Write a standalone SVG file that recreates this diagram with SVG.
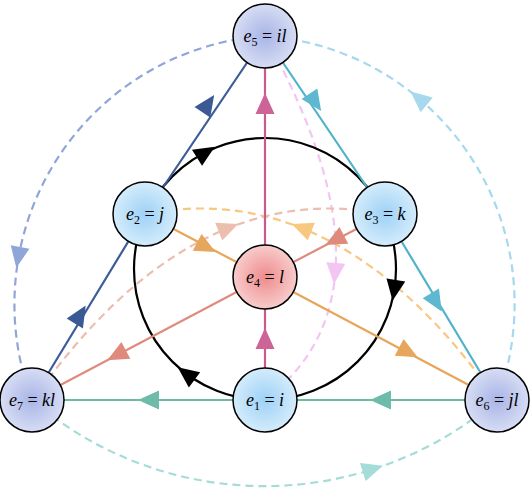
<svg xmlns="http://www.w3.org/2000/svg" width="530" height="488" viewBox="0 0 530 488">
<defs>
<radialGradient id="gBlue"><stop offset="0" stop-color="#9dd1f6"/><stop offset="1" stop-color="#d4ecfb"/></radialGradient>
<radialGradient id="gPurple"><stop offset="0" stop-color="#a8b4e6"/><stop offset="1" stop-color="#d7ddf4"/></radialGradient>
<radialGradient id="gRed"><stop offset="0" stop-color="#ee8b8b"/><stop offset="1" stop-color="#f8cccc"/></radialGradient>
<path id="ah" d="M 11 0 L -10 -9.5 L -10 9.5 Z"/>
</defs>
<style>
.node circle{stroke:#000;stroke-width:1.5}
.lbl{font-family:"Liberation Serif","DejaVu Serif",serif;font-size:18px;text-anchor:middle;fill:#000}
.it{font-style:italic}
.sub{font-size:12px}
.ln{fill:none;stroke-width:2.2}
.dash{fill:none;stroke-width:2.2;stroke-dasharray:8 5}
</style>
<g id="connectors">
<path class="dash" stroke="#90a6d9" d="M 265 36 A 269 269 0 0 0 32 400"/>
<path class="dash" stroke="#a6d8ee" d="M 497 400 A 269 269 0 0 0 265 36"/>
<path class="dash" stroke="#a5dcd7" d="M 32 400 A 357 357 0 0 0 497 400"/>
<path class="dash" stroke="#f3c5f3" d="M 265 36 Q 407 292 265 400"/>
<path class="dash" stroke="#f7c880" d="M 497 400 Q 340 176 145 214"/>
<path class="dash" stroke="#ecbeaf" d="M 33 400 Q 190 176 385 214"/>
<use href="#ah" fill="#90a6d9" transform="translate(18.3 256.9) rotate(100.3)"/>
<use href="#ah" fill="#a6d8ee" transform="translate(419 98.5) rotate(-140.2)"/>
<use href="#ah" fill="#a5dcd7" transform="translate(372.4 469) rotate(-17.6)"/>
<use href="#ah" fill="#f3c5f3" transform="translate(335 273) rotate(94.6)"/>
<use href="#ah" fill="#f7c880" transform="translate(302 228) rotate(201.6)"/>
<use href="#ah" fill="#ecbeaf" transform="translate(228 228) rotate(-21.6)"/>

<circle class="ln" stroke="#000" cx="265" cy="269" r="131"/>
<use href="#ah" fill="#000" transform="translate(205.5 152.5) rotate(-32)"/>
<use href="#ah" fill="#000" transform="translate(394.3 289.9) rotate(99.2)"/>
<use href="#ah" fill="#000" transform="translate(186.5 373.9) rotate(216.8)"/>

<path class="ln" stroke="#3d5c99" d="M 32 400 L 145 214 L 265 36"/>
<path class="ln" stroke="#4fb3cc" d="M 265 36 L 385 214 L 497 400"/>
<path class="ln" stroke="#6cb9a5" d="M 497 400 L 32 400"/>
<path class="ln" stroke="#c95a8c" d="M 265 400 L 265 36"/>
<path class="ln" stroke="#e8a55a" d="M 145 214 L 265 277 L 497 400"/>
<path class="ln" stroke="#df8a7c" d="M 385 214 L 265 277 L 32 400"/>
<use href="#ah" fill="#3a5995" transform="translate(208 104) rotate(-56)"/>
<use href="#ah" fill="#3a5995" transform="translate(80 315) rotate(-58.7)"/>
<use href="#ah" fill="#5db8d0" transform="translate(315 102) rotate(56)"/>
<use href="#ah" fill="#5db8d0" transform="translate(436 302) rotate(58.9)"/>
<use href="#ah" fill="#6ebba9" transform="translate(381 400) rotate(180)"/>
<use href="#ah" fill="#6ebba9" transform="translate(149 400) rotate(180)"/>
<use href="#ah" fill="#cc6497" transform="translate(265 104) rotate(-90)"/>
<use href="#ah" fill="#cc6497" transform="translate(265 339) rotate(-90)"/>
<use href="#ah" fill="#e6a65c" transform="translate(206 247) rotate(27.7)"/>
<use href="#ah" fill="#e6a65c" transform="translate(408 352) rotate(27.9)"/>
<use href="#ah" fill="#df8a7c" transform="translate(335 240) rotate(152.3)"/>
<use href="#ah" fill="#df8a7c" transform="translate(117 355) rotate(152.2)"/>
</g>
<g id="e5" class="node"><circle cx="265" cy="36" r="32" fill="url(#gPurple)"/><text class="lbl" x="265" y="42"><tspan class="it">e</tspan><tspan class="sub" dy="4">5</tspan><tspan dy="-4"> = </tspan><tspan class="it">il</tspan></text></g>
<g id="e2" class="node"><circle cx="145" cy="214" r="32" fill="url(#gBlue)"/><text class="lbl" x="145" y="220"><tspan class="it">e</tspan><tspan class="sub" dy="4">2</tspan><tspan dy="-4"> = </tspan><tspan class="it">j</tspan></text></g>
<g id="e3" class="node"><circle cx="385" cy="214" r="32" fill="url(#gBlue)"/><text class="lbl" x="385" y="220"><tspan class="it">e</tspan><tspan class="sub" dy="4">3</tspan><tspan dy="-4"> = </tspan><tspan class="it">k</tspan></text></g>
<g id="e4" class="node"><circle cx="265" cy="277" r="32" fill="url(#gRed)"/><text class="lbl" x="265" y="283"><tspan class="it">e</tspan><tspan class="sub" dy="4">4</tspan><tspan dy="-4"> = </tspan><tspan class="it">l</tspan></text></g>
<g id="e1" class="node"><circle cx="265" cy="400" r="32" fill="url(#gBlue)"/><text class="lbl" x="265" y="406"><tspan class="it">e</tspan><tspan class="sub" dy="4">1</tspan><tspan dy="-4"> = </tspan><tspan class="it">i</tspan></text></g>
<g id="e7" class="node"><circle cx="32" cy="400" r="32" fill="url(#gPurple)"/><text class="lbl" x="32" y="406"><tspan class="it">e</tspan><tspan class="sub" dy="4">7</tspan><tspan dy="-4"> = </tspan><tspan class="it">kl</tspan></text></g>
<g id="e6" class="node"><circle cx="497" cy="400" r="32" fill="url(#gPurple)"/><text class="lbl" x="497" y="406"><tspan class="it">e</tspan><tspan class="sub" dy="4">6</tspan><tspan dy="-4"> = </tspan><tspan class="it">jl</tspan></text></g>
</svg>
